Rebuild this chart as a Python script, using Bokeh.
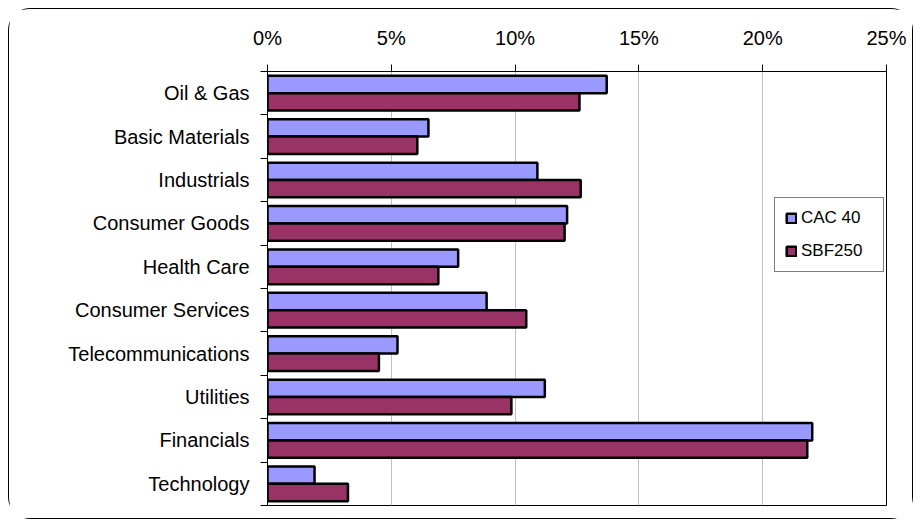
from bokeh.plotting import figure
from bokeh.models import (Range1d, FixedTicker, Legend, LegendItem, ColumnDataSource,
                          PrintfTickFormatter)
from bokeh.transform import dodge
from bokeh.embed import file_html
from bokeh.resources import INLINE

categories = ["Oil & Gas", "Basic Materials", "Industrials", "Consumer Goods", "Health Care",
              "Consumer Services", "Telecommunications", "Utilities", "Financials", "Technology"]
cac40 = [13.7, 6.5, 10.9, 12.1, 7.7, 8.85, 5.25, 11.2, 22.0, 1.9]
sbf250 = [12.6, 6.05, 12.65, 12.0, 6.9, 10.45, 4.5, 9.85, 21.8, 3.25]
series = ["CAC 40", "SBF250"]
x_ticks = [0, 5, 10, 15, 20, 25]
colors = ["#9999FF", "#993366"]

n = len(categories)
pos = [i + 0.5 for i in range(n)]
src = ColumnDataSource(dict(pos=pos, cac=cac40, sbf=sbf250, cat=categories))

FONT = "Liberation Sans"

p = figure(width=905, height=511, x_range=Range1d(0, 25), y_range=Range1d(n, 0),
           x_axis_location="above", output_backend="svg", toolbar_location=None,
           min_border_left=258, min_border_top=62, min_border_right=28, min_border_bottom=15)
p.styles = {"border": "1.3px solid black", "border-radius": "22px",
            "margin-left": "8px", "margin-top": "8px"}

r1 = p.hbar(y=dodge("pos", -0.2, range=p.y_range), right="cac", left=0, height=0.4, source=src,
            fill_color=colors[0], line_color="black", line_width=2.5)
r2 = p.hbar(y=dodge("pos", 0.2, range=p.y_range), right="sbf", left=0, height=0.4, source=src,
            fill_color=colors[1], line_color="black", line_width=2.5)

# x axis on top
xa = p.xaxis[0]
xa.ticker = FixedTicker(ticks=x_ticks)
xa.formatter = PrintfTickFormatter(format="%d%%")
xa.major_tick_out = 7
xa.major_tick_in = 0
xa.minor_tick_line_color = None
xa.axis_line_color = "black"
xa.major_tick_line_color = "black"
xa.major_label_text_font = FONT
xa.major_label_text_font_size = "20px"
xa.major_label_text_color = "black"
xa.major_label_standoff = 16

# y axis: labels at category centres, ticks at boundaries
ya = p.yaxis[0]
ya.ticker = FixedTicker(ticks=pos, minor_ticks=[i for i in range(n + 1)])
ya.major_label_overrides = {pp: c for pp, c in zip(pos, categories)}
ya.major_tick_out = 0
ya.major_tick_in = 0
ya.minor_tick_out = 7
ya.minor_tick_in = 0
ya.minor_tick_line_color = "black"
ya.axis_line_color = "black"
ya.major_label_text_font = FONT
ya.major_label_text_font_size = "20px"
ya.major_label_text_color = "black"
ya.major_label_standoff = 11

p.xgrid.ticker = FixedTicker(ticks=x_ticks)
p.xgrid.grid_line_color = "#c0c0c0"
p.ygrid.grid_line_color = None
p.outline_line_color = "black"
p.outline_line_alpha = 1

legend = Legend(items=[LegendItem(label=series[0], renderers=[r1]),
                       LegendItem(label=series[1], renderers=[r2])],
                location=(507, 233), orientation="vertical",
                label_text_font=FONT, label_text_font_size="17px", label_text_color="black",
                glyph_width=12, glyph_height=12, label_standoff=4, label_width=72,
                padding=10, spacing=13, margin=0,
                border_line_color="black", border_line_width=1,
                background_fill_color="white", background_fill_alpha=1)
p.add_layout(legend, "center")

open("out.html", "w").write(file_html(p, INLINE))
